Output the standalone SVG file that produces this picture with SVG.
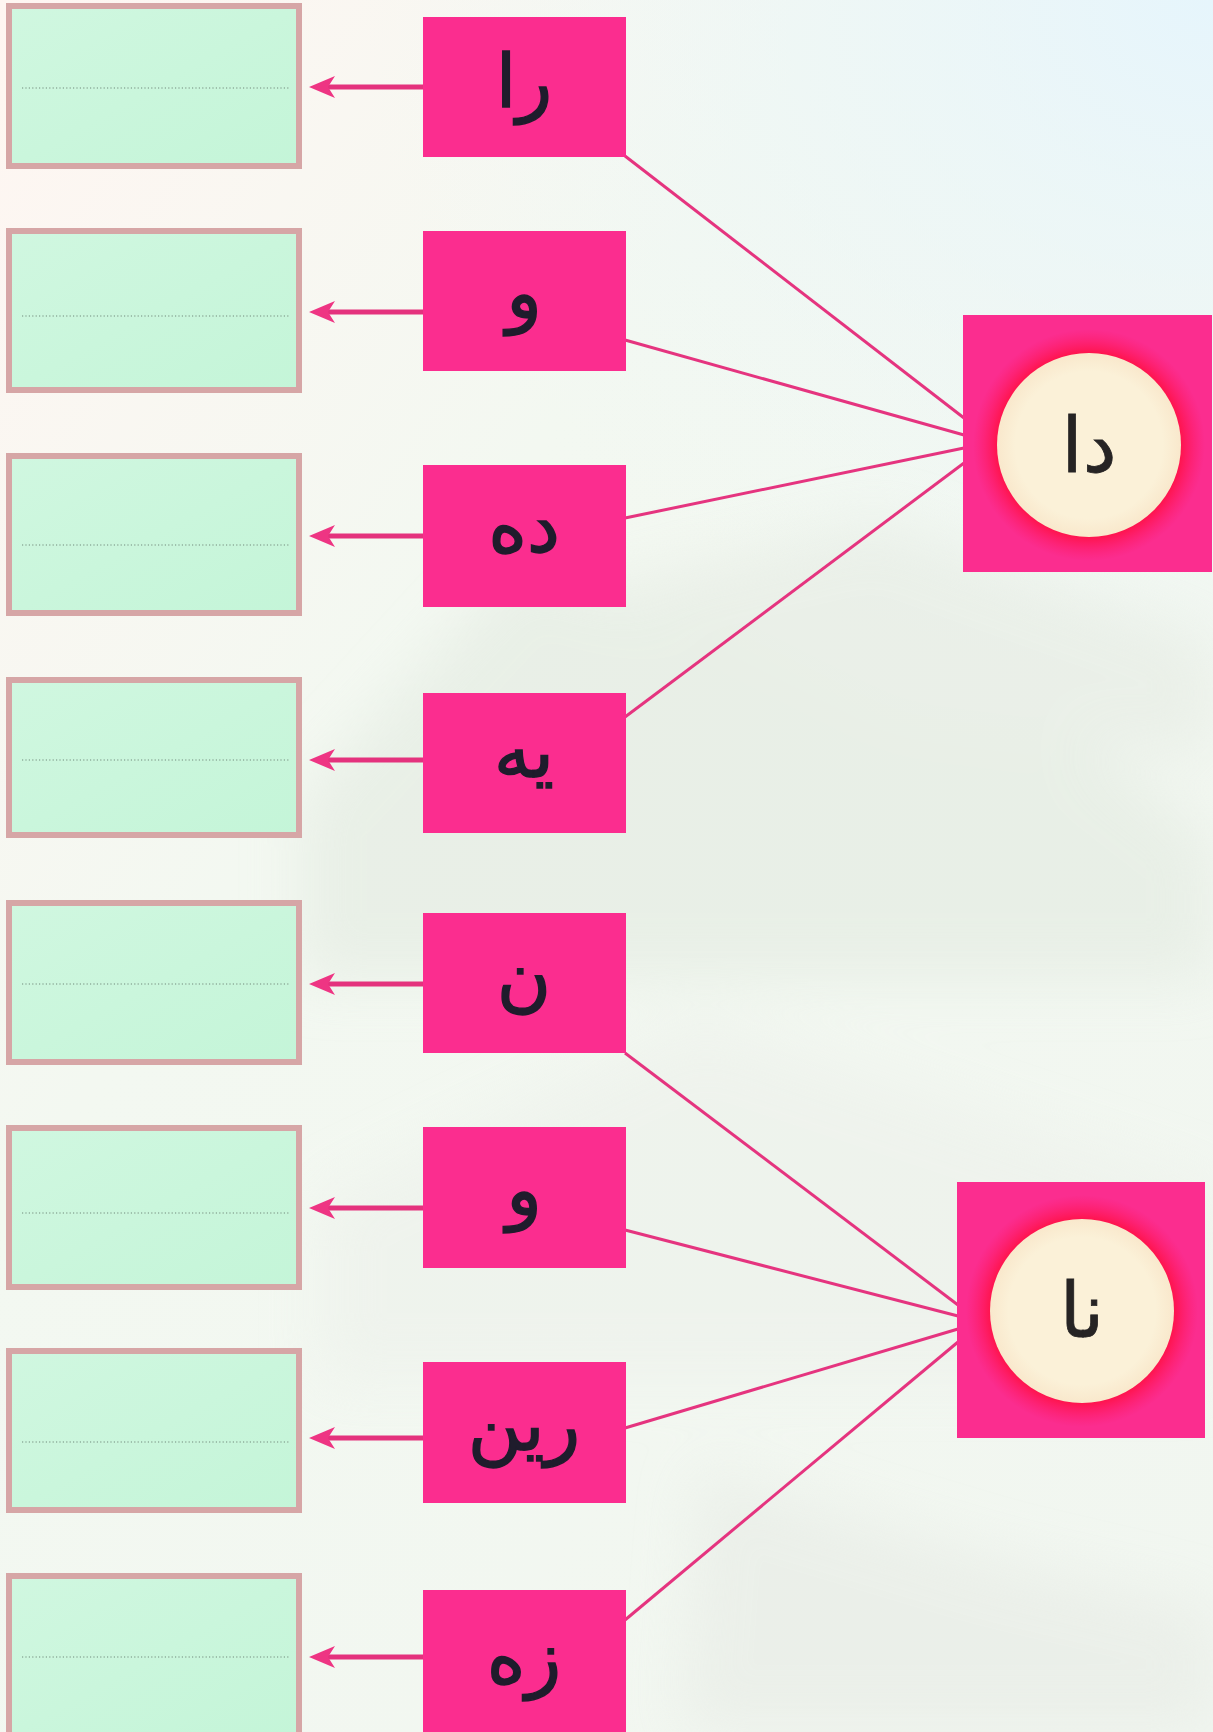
<svg xmlns="http://www.w3.org/2000/svg" width="1213" height="1732" viewBox="0 0 1213 1732">
<style>
.box{fill:url(#mint);stroke:#d6a6a6;stroke-width:6}
.dot{stroke:#8fae9c;stroke-width:1.6;stroke-dasharray:1.2 2.2;fill:none}
.node{fill:#fb2d8f}
.lbl{font-family:"DejaVu Sans",sans-serif;font-size:74px;fill:#1f1c2c;stroke:#1f1c2c;stroke-width:1.4;text-anchor:middle}
.big{font-family:"DejaVu Sans",sans-serif;font-size:76px;fill:#262424;stroke:#262424;stroke-width:0.8;text-anchor:middle}
.arr{stroke:#e4327d;stroke-width:5;fill:none;marker-end:url(#ah)}
.ln{stroke:#e5347f;stroke-width:3;fill:none}
</style>
<defs>
<linearGradient id="bg" x1="0" y1="0" x2="1" y2="1">
<stop offset="0" stop-color="#fff6f2"/>
<stop offset="0.35" stop-color="#f3f8f1"/>
<stop offset="1" stop-color="#f1f6f0"/>
</linearGradient>
<radialGradient id="bgr" cx="1" cy="0" r="0.7">
<stop offset="0" stop-color="#e6f5fc"/>
<stop offset="1" stop-color="#eef7f6" stop-opacity="0"/>
</radialGradient>
<linearGradient id="mint" x1="0" y1="0" x2="1" y2="1">
<stop offset="0" stop-color="#d0f7e0"/>
<stop offset="1" stop-color="#c4f5d8"/>
</linearGradient>
<radialGradient id="glow" cx="0.5" cy="0.5" r="0.5">
<stop offset="0.78" stop-color="#ff1248"/>
<stop offset="1" stop-color="#ff1a6a" stop-opacity="0"/>
</radialGradient>
<radialGradient id="cream" cx="0.5" cy="0.5" r="0.5">
<stop offset="0.8" stop-color="#fbf1d8"/>
<stop offset="1" stop-color="#f9e8cc"/>
</radialGradient>
<filter id="soft" x="-20%" y="-20%" width="140%" height="140%">
<feGaussianBlur stdDeviation="28"/>
</filter>
<marker id="ah" markerUnits="userSpaceOnUse" markerWidth="32" markerHeight="26" viewBox="0 -13 32 26" refX="15" refY="0" orient="auto">
<path d="M0,-11 L26,0 L0,11 L7,0 Z" fill="#ee3583"/>
</marker>
</defs>
<rect x="0" y="0" width="1213" height="1732" fill="url(#bg)"/>
<rect x="0" y="0" width="1213" height="1000" fill="url(#bgr)"/>
<g id="background" filter="url(#soft)" opacity="0.55">
<polygon points="300,800 520,560 720,620 1060,720 1213,840 1213,980 300,980" fill="#e1e9df"/>
<polygon points="620,580 880,520 1213,640 1213,760 900,720" fill="#e4eae2"/>
<polygon points="320,1200 700,1020 1000,1120 1213,1190 1213,1380 320,1380" fill="#ecf0ea"/>
<polygon points="700,1470 1000,1560 1213,1610 1213,1732 680,1732" fill="#e6eae4"/>
</g>
<g id="answers">
<g id="a1"><rect class="box" x="9" y="6" width="290" height="160"/><line class="dot" x1="22" y1="88" x2="290" y2="88"/></g>
<g id="a2"><rect class="box" x="9" y="231" width="290" height="159"/><line class="dot" x1="22" y1="316" x2="290" y2="316"/></g>
<g id="a3"><rect class="box" x="9" y="456" width="290" height="157"/><line class="dot" x1="22" y1="545" x2="290" y2="545"/></g>
<g id="a4"><rect class="box" x="9" y="680" width="290" height="155"/><line class="dot" x1="22" y1="760" x2="290" y2="760"/></g>
<g id="a5"><rect class="box" x="9" y="903" width="290" height="159"/><line class="dot" x1="22" y1="984" x2="290" y2="984"/></g>
<g id="a6"><rect class="box" x="9" y="1128" width="290" height="159"/><line class="dot" x1="22" y1="1213" x2="290" y2="1213"/></g>
<g id="a7"><rect class="box" x="9" y="1351" width="290" height="159"/><line class="dot" x1="22" y1="1442" x2="290" y2="1442"/></g>
<g id="a8"><rect class="box" x="9" y="1576" width="290" height="159"/><line class="dot" x1="22" y1="1657" x2="290" y2="1657"/></g>
</g>
<g id="connectors">
<line class="arr" x1="424" y1="87" x2="320" y2="87"/>
<line class="arr" x1="424" y1="312" x2="320" y2="312"/>
<line class="arr" x1="424" y1="536" x2="320" y2="536"/>
<line class="arr" x1="424" y1="760" x2="320" y2="760"/>
<line class="arr" x1="424" y1="984" x2="320" y2="984"/>
<line class="arr" x1="424" y1="1208" x2="320" y2="1208"/>
<line class="arr" x1="424" y1="1438" x2="320" y2="1438"/>
<line class="arr" x1="424" y1="1657" x2="320" y2="1657"/>
<line class="ln" x1="625" y1="156" x2="964" y2="418"/>
<line class="ln" x1="625" y1="340" x2="964" y2="435"/>
<line class="ln" x1="625" y1="518" x2="964" y2="448"/>
<line class="ln" x1="625" y1="717" x2="964" y2="463"/>
<line class="ln" x1="625" y1="1053" x2="958" y2="1305"/>
<line class="ln" x1="625" y1="1230" x2="958" y2="1316"/>
<line class="ln" x1="625" y1="1428" x2="958" y2="1329"/>
<line class="ln" x1="625" y1="1620" x2="958" y2="1342"/>
</g>
<g id="n1"><rect class="node" x="423" y="17" width="203" height="140"/><text class="lbl" x="524" y="107">را</text></g>
<g id="n2"><rect class="node" x="423" y="231" width="203" height="140"/><text class="lbl" x="524" y="318">و</text></g>
<g id="n3"><rect class="node" x="423" y="465" width="203" height="142"/><text class="lbl" x="524" y="552">ده</text></g>
<g id="n4"><rect class="node" x="423" y="693" width="203" height="140"/><text class="lbl" x="524" y="777">یه</text></g>
<g id="n5"><rect class="node" x="423" y="913" width="203" height="140"/><text class="lbl" x="524" y="1003">ن</text></g>
<g id="n6"><rect class="node" x="423" y="1127" width="203" height="141"/><text class="lbl" x="524" y="1215">و</text></g>
<g id="n7"><rect class="node" x="423" y="1362" width="203" height="141"/><text class="lbl" x="524" y="1450">رین</text></g>
<g id="n8"><rect class="node" x="423" y="1590" width="203" height="142"/><text class="lbl" x="524" y="1683">زه</text></g>
<g id="big1">
<rect class="node" x="963" y="315" width="249" height="257"/>
<circle cx="1089" cy="445" r="116" fill="url(#glow)"/>
<circle cx="1089" cy="445" r="92" fill="url(#cream)"/>
<text class="big" x="1089" y="472">دا</text>
</g>
<g id="big2">
<rect class="node" x="957" y="1182" width="248" height="256"/>
<circle cx="1082" cy="1311" r="116" fill="url(#glow)"/>
<circle cx="1082" cy="1311" r="92" fill="url(#cream)"/>
<text class="big" x="1082" y="1337">نا</text>
</g>
</svg>
